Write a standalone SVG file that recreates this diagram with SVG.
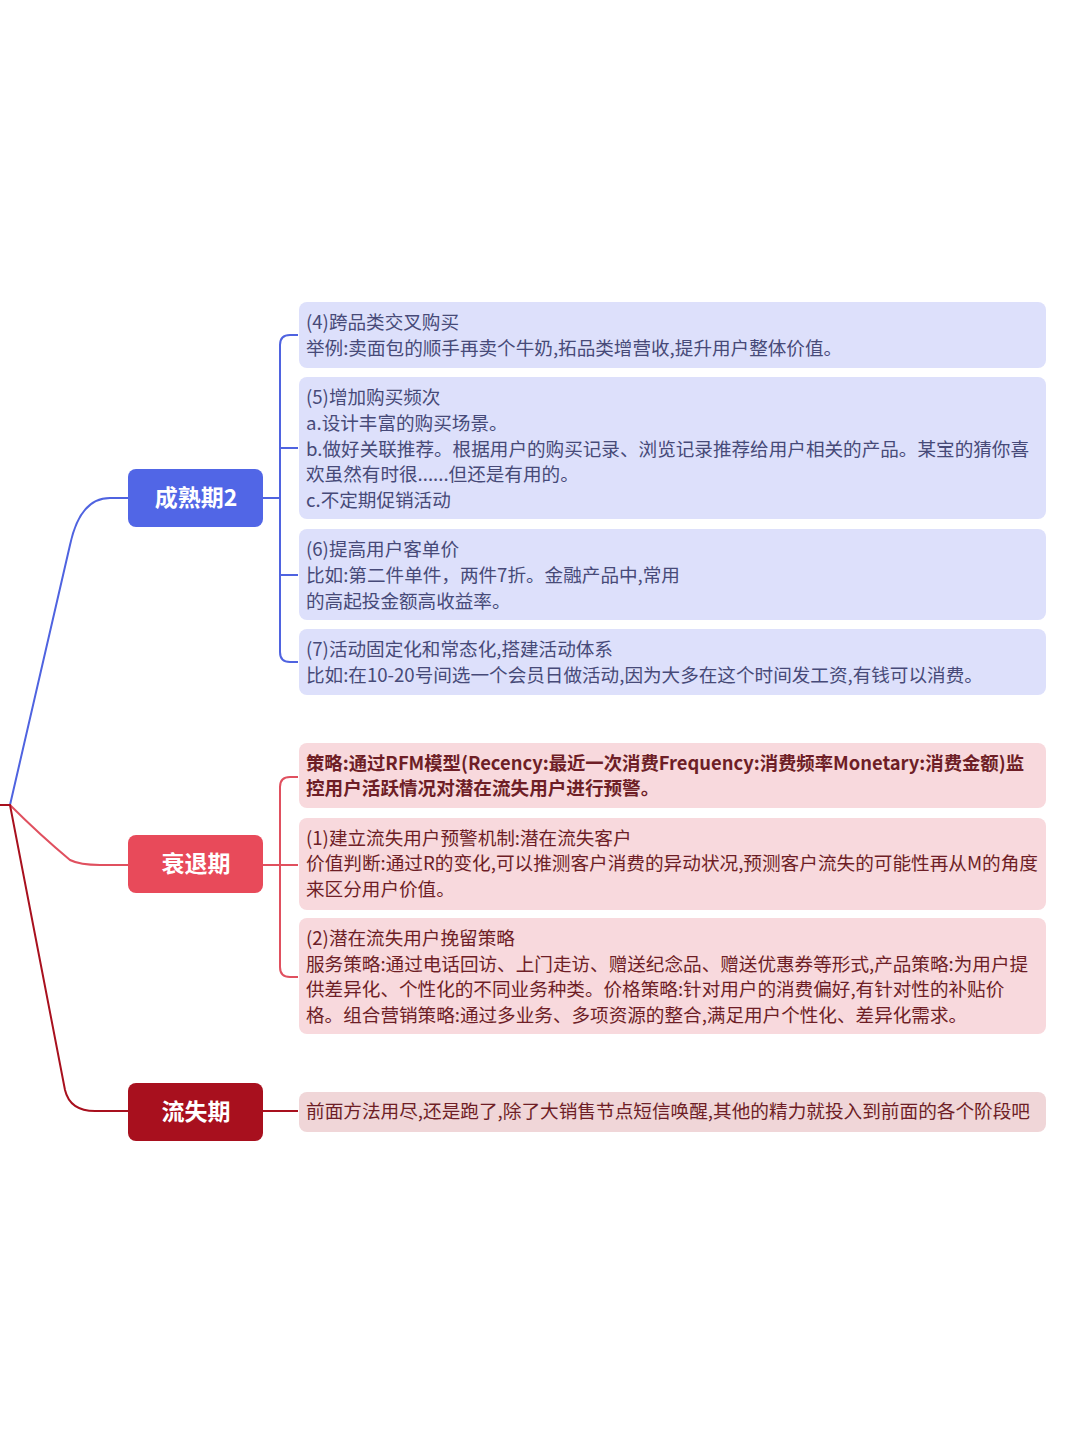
<svg xmlns="http://www.w3.org/2000/svg" width="1080" height="1443" viewBox="0 0 1080 1443">
<style>
.t{font-family:"Noto Sans CJK SC","Noto Sans",sans-serif;font-size:18.6px}
.tb{fill:#474a78}.tr{fill:#6e1e26}
.bb{fill:#dde0fb}.br{fill:#f8d9dd}.bl{fill:#f0d6d8}
.n{font-family:"Noto Sans CJK SC",sans-serif;font-size:23px;font-weight:bold;fill:#fff;text-anchor:middle}
.c{fill:none;stroke-width:2}
</style>
<rect width="1080" height="1443" fill="#fff"/>
<g id="connectors">
<path class="c" stroke="#4f63e0" d="M10,805 L70,545 Q80,498 110,498 L128,498"/>
<path class="c" stroke="#4f63e0" d="M263,498 H280 M298,335 H290 Q280,335 280,345 V652 Q280,662 290,662 H298 M280,448 H298 M280,575 H298"/>
<path class="c" stroke="#e0505f" d="M10,805 Q40,835 70,860 Q80,865 100,865 H128"/>
<path class="c" stroke="#e0505f" d="M263,865 H298 M298,777 H290 Q280,777 280,787 V967 Q280,977 290,977 H298"/>
<path class="c" stroke="#a8101e" d="M0,805 H10 L65,1090 Q70,1111 95,1111 H128 M263,1111 H298"/>
</g>
<g id="n-mature"><rect x="128" y="469" width="135" height="58" rx="8" fill="#5166e6"/><text class="n" x="196" y="506">成熟期2</text></g>
<g id="n-decline"><rect x="128" y="835" width="135" height="58" rx="8" fill="#e84a5a"/><text class="n" x="196" y="872">衰退期</text></g>
<g id="n-loss"><rect x="128" y="1083" width="135" height="58" rx="8" fill="#a8101e"/><text class="n" x="196" y="1120">流失期</text></g>
<g id="b4"><rect class="bb" x="299" y="302" width="747" height="66" rx="8"/>
<text class="t tb" x="306" y="329">(4)跨品类交叉购买</text>
<text class="t tb" x="306" y="355">举例:卖面包的顺手再卖个牛奶,拓品类增营收,提升用户整体价值。</text></g>
<g id="b5"><rect class="bb" x="299" y="377" width="747" height="142" rx="8"/>
<text class="t tb" x="306" y="404">(5)增加购买频次</text>
<text class="t tb" x="306" y="430">a.设计丰富的购买场景。</text>
<text class="t tb" x="306" y="456">b.做好关联推荐。根据用户的购买记录、浏览记录推荐给用户相关的产品。某宝的猜你喜</text>
<text class="t tb" x="306" y="481">欢虽然有时很......但还是有用的。</text>
<text class="t tb" x="306" y="507">c.不定期促销活动</text></g>
<g id="b6"><rect class="bb" x="299" y="529" width="747" height="91" rx="8"/>
<text class="t tb" x="306" y="556">(6)提高用户客单价</text>
<text class="t tb" x="306" y="582">比如:第二件单件，两件7折。金融产品中,常用</text>
<text class="t tb" x="306" y="608">的高起投金额高收益率。</text></g>
<g id="b7"><rect class="bb" x="299" y="629" width="747" height="66" rx="8"/>
<text class="t tb" x="306" y="656">(7)活动固定化和常态化,搭建活动体系</text>
<text class="t tb" x="306" y="682">比如:在10-20号间选一个会员日做活动,因为大多在这个时间发工资,有钱可以消费。</text></g>
<g id="r0"><rect class="br" x="299" y="743" width="747" height="65" rx="8"/>
<text class="t tr" x="306" y="770" font-weight="bold" textLength="718" lengthAdjust="spacingAndGlyphs">策略:通过RFM模型(Recency:最近一次消费Frequency:消费频率Monetary:消费金额)监</text>
<text class="t tr" x="306" y="795" font-weight="bold">控用户活跃情况对潜在流失用户进行预警。</text></g>
<g id="r1"><rect class="br" x="299" y="818" width="747" height="92" rx="8"/>
<text class="t tr" x="306" y="845">(1)建立流失用户预警机制:潜在流失客户</text>
<text class="t tr" x="306" y="870" textLength="732" lengthAdjust="spacingAndGlyphs">价值判断:通过R的变化,可以推测客户消费的异动状况,预测客户流失的可能性再从M的角度</text>
<text class="t tr" x="306" y="896">来区分用户价值。</text></g>
<g id="r2"><rect class="br" x="299" y="918" width="747" height="116" rx="8"/>
<text class="t tr" x="306" y="945">(2)潜在流失用户挽留策略</text>
<text class="t tr" x="306" y="971">服务策略:通过电话回访、上门走访、赠送纪念品、赠送优惠券等形式,产品策略:为用户提</text>
<text class="t tr" x="306" y="996">供差异化、个性化的不同业务种类。价格策略:针对用户的消费偏好,有针对性的补贴价</text>
<text class="t tr" x="306" y="1022">格。组合营销策略:通过多业务、多项资源的整合,满足用户个性化、差异化需求。</text></g>
<g id="l0"><rect class="bl" x="299" y="1092" width="747" height="40" rx="8"/>
<text class="t tr" x="306" y="1118" textLength="724" lengthAdjust="spacingAndGlyphs">前面方法用尽,还是跑了,除了大销售节点短信唤醒,其他的精力就投入到前面的各个阶段吧</text></g>
</svg>
